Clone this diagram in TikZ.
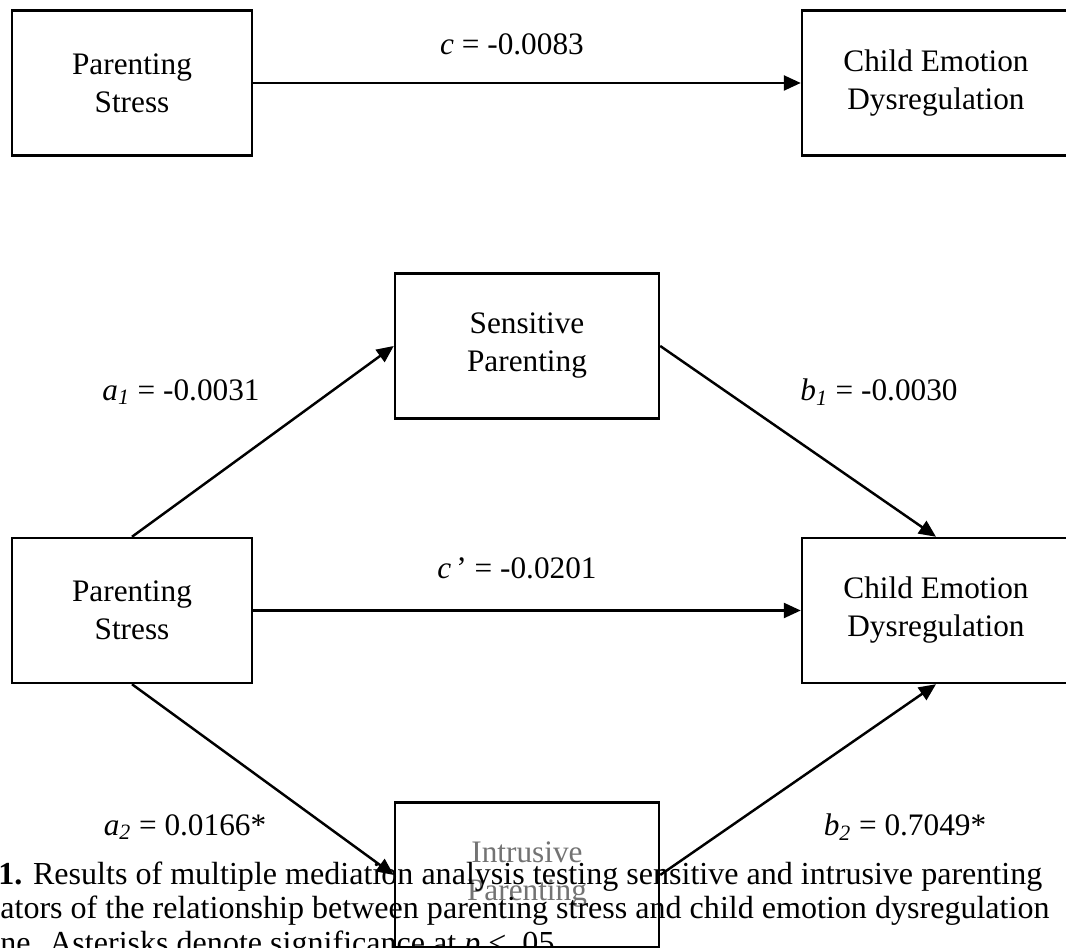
\documentclass[tikz,border=0pt]{standalone}
\usepackage{fontspec}
\setmainfont{Liberation Serif}
\usetikzlibrary{arrows.meta}

\begin{document}
\begin{tikzpicture}[
  varbox/.style={draw, line width=1.4pt, minimum width=#1, minimum height=2.9cm,
    align=center, inner sep=0pt, font=\fontsize{17.8}{21.6}\selectfont},
  effect/.style={-{Triangle[length=0.34cm,width=0.3cm]}, line width=1.4pt},
  coef/.style={font=\fontsize{17.8}{21.6}\selectfont},
  captionline/.style={anchor=base west, inner sep=0pt, font=\fontsize{18.25}{21.6}\selectfont}
]
\useasboundingbox (0,0) rectangle (21.32,18.96);

% total effect
\node[varbox=4.8cm] (stress) at (2.64,17.30) {Parenting\\Stress};
\node[varbox=5.36cm] (dysreg) at (18.72,17.30) {Child Emotion\\Dysregulation};
\draw[effect] (stress) -- (dysreg);
\node[coef] (c) at (10.24,18.08) {\textit{c} = -0.0083};

% mediation model
\node[varbox=4.8cm] (stressm) at (2.64,6.75) {Parenting\\Stress};
\node[varbox=5.36cm] (dysregm) at (18.72,6.75) {Child Emotion\\Dysregulation};
\node[varbox=5.28cm] (sens) at (10.54,12.04) {Sensitive\\Parenting};
\node[varbox=5.28cm, text=black!55] (intr) at (10.54,1.46) {Intrusive\\Parenting};

\draw[effect] (stressm) -- (dysregm);
\draw[effect] (stressm.north) -- (sens.west);
\draw[effect] (sens.east) -- (dysregm.north);
\draw[effect] (stressm.south) -- (intr.west);
\draw[effect] (intr.east) -- (dysregm.south);

\node[coef] (cp) at (10.34,7.60) {\textit{c}\,’ = -0.0201};
\node[coef] (a1) at (3.62,11.12) {\textit{a}\textsubscript{\textit{1}} = -0.0031};
\node[coef] (b1) at (17.58,11.12) {\textit{b}\textsubscript{\textit{1}} = -0.0030};
\node[coef] (a2) at (3.70,2.42) {\textit{a}\textsubscript{\textit{2}} = 0.0166*};
\node[coef] (b2) at (18.10,2.42) {\textit{b}\textsubscript{\textit{2}} = 0.7049*};

% caption, cut by the page edge
\node[captionline] (cap1) at (-0.04,1.26) {\textbf{1.} Results of multiple mediation analysis testing sensitive and intrusive parenting};
\node[captionline] (cap2) at (0,0.58) {ators of the relationship between parenting stress and child emotion dysregulation};
\node[captionline] (cap3) at (0,-0.12) {ne. Asterisks denote significance at \textit{p} < .05};

\end{tikzpicture}
\end{document}
